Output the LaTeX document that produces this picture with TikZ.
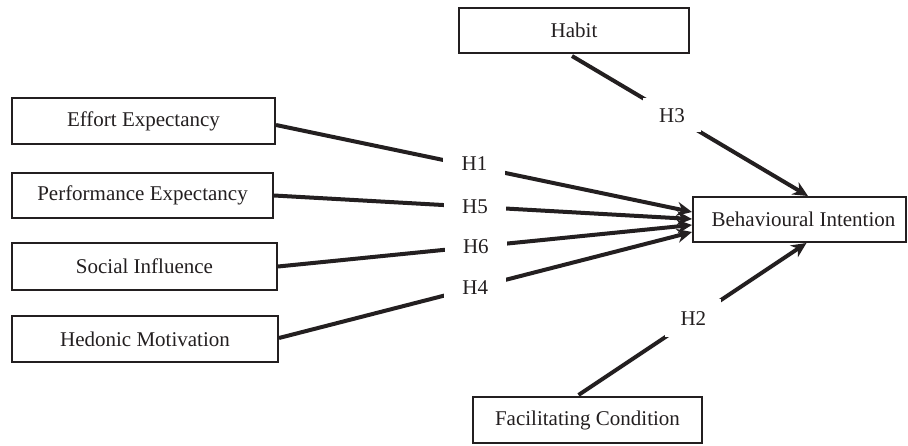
\documentclass[tikz,border=0pt]{standalone}
\usepackage{fontspec}
\setmainfont{Liberation Serif}
\usetikzlibrary{arrows.meta,calc}
\definecolor{ink}{RGB}{35,31,32}
\begin{document}
\begin{tikzpicture}[x=1pt,y=-1pt,
  box/.style={draw=ink, line width=2pt, fill=white, inner sep=0pt,
    text=ink, font=\fontsize{21}{25}\selectfont},
  link/.style={line width=4pt, draw=ink, -{Stealth[length=15pt,width=14pt]}},
  hyp/.style={fill=white, inner sep=0pt, minimum width=62pt, minimum height=22pt,
    text=ink, font=\fontsize{21}{25}\selectfont}]
\useasboundingbox (0,0) rectangle (908,445);

% constructs
\node[box, minimum width=263pt, minimum height=46pt] (eff) at (143.5,121) {Effort Expectancy};
\node[box, minimum width=261pt, minimum height=45pt] (perf) at (142.5,195.5) {Performance Expectancy};
\node[box, minimum width=265pt, minimum height=47pt] (soc) at (144.5,266.5) {Social Influence};
\node[box, minimum width=266pt, minimum height=46pt] (hed) at (145,339) {Hedonic Motivation};
\node[box, minimum width=230pt, minimum height=45pt] (hab) at (574,30.5) {Habit};
\node[box, minimum width=229pt, minimum height=46pt] (fac) at (587.5,420) {Facilitating Condition};
\node[box, minimum width=213pt, minimum height=45pt, xshift=0pt] (bi) at (799.5,219.5) {\hspace*{8pt}Behavioural Intention};

% hypothesised paths
\draw[link] ($(eff.east)+(0,4)$) -- node[hyp,pos=0.477,yshift=3pt]{H1} ($(bi.west)+(0,-7.5)$);
\draw[link] (perf.east) -- node[hyp,pos=0.481]{H5} ($(bi.west)+(0,-0.5)$);
\draw[link] (soc.east) -- node[hyp,pos=0.478]{H6} ($(bi.west)+(0,5.5)$);
\draw[link] ($(hed.east)+(0,-1)$) -- node[hyp,pos=0.475]{H4} ($(bi.west)+(0,12.5)$);
\draw[link] ($(hab.south)+(-2,2)$) -- node[hyp,pos=0.424,minimum height=34pt,minimum width=58pt]{H3} ($(bi.north)+(8.5,0)$);
\draw[link] ($(fac.north)+(-9,-1)$) -- node[hyp,pos=0.504,minimum height=38pt,minimum width=56pt]{H2} ($(bi.south)+(7,0)$);
\end{tikzpicture}
\end{document}
